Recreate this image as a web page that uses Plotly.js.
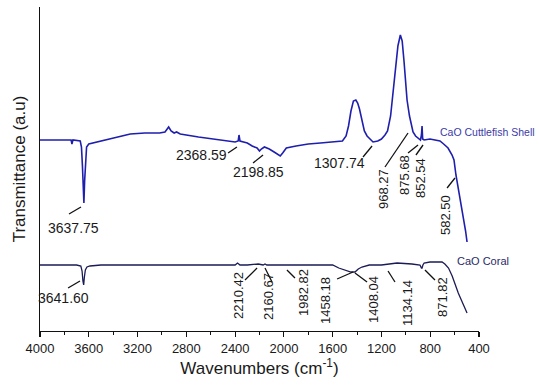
<!DOCTYPE html>
<html>
<head>
<meta charset="utf-8">
<script src="https://cdn.plot.ly/plotly-3.0.1.min.js"></script>
<style>html,body{margin:0;padding:0;background:#fff;}#chart{width:539px;height:385px;}</style>
</head>
<body>
<div id="chart"></div>
<script>
// CaO Cuttlefish Shell spectrum (wavenumber, transmittance a.u.)
const shellWavenumber = [4000,3850,3745,3738,3730,3670,3660,3652,3646,3640,3634,3627,3618,3600,3500,3380,3260,3140,3020,2975,2945,2925,2900,2880,2850,2700,2500,2400,2375,2368,2360,2330,2300,2260,2220,2200,2185,2160,2120,2080,2050,2030,2010,1980,1900,1800,1700,1600,1520,1490,1470,1450,1430,1410,1395,1380,1359,1340,1318,1290,1269,1230,1200,1171,1150,1125,1105,1085,1065,1045,1030,1015,1000,990,970,955,941,920,900,880,872,867,862,850,802,760,720,690,654,621,605,589,575,556,540,523,510,498];
const shellT = [191,191,191,187,191,190,184,165,140,128,150,172,184,187,190,194,197,198,198,199,204,200,198,199,197,194,191,189,190,196,190,189,188,185,183,180,182,184,182,179,177,175,178,183,185,187,188,189,190,195,205,220,230,231,228,222,210,200,195,191,189,190,192,196,200,215,240,265,285,296,290,270,250,231,215,205,199,195,193,191,196,205,192,191,192,191,190,187,183,176,171,156,146,136,124,111,100,89];
// CaO Coral spectrum
const coralWavenumber = [4000,3700,3665,3655,3648,3642,3636,3628,3615,3590,3500,3000,2400,2380,2370,2360,2300,2210,2170,2155,2140,2100,2000,1900,1800,1600,1550,1500,1450,1417,1390,1360,1318,1300,1200,1150,1072,950,900,884,872,867,860,850,802,750,703,680,650,620,590,570,545,520,498];
const coralT = [66,66,65,60,50,46,54,61,64,65,66,66,66,68,67,66,66,67,66,67,66,66,66,66,66,66,63,61,59,59,62,64,65,66,66,67,68,67,66,66,63,63,66,68,69,69,69,67,63,55,44,38,31,24,18];
// Peak labels
const labelText = ["3637.75","2368.59","2198.85","1307.74","968.27","875.68","852.54","582.50","3641.60","2210.42","2160.67","1982.82","1458.18","1408.04","1134.14","871.82"];
const labelTipWavenumber = [3664,2385,2171,1277,982,900,859,597,3672,2220,2155,1975,1433,1417,1146,843];
const labelTipT = [124,184,176,185,198,186,186,153,50,63,63,61,59,58,60,61];
const labelTailWavenumber = [3762,2458,2253,1351,1171,982,917,662,3770,2319,2097,1909,1564,1318,1089,761];
const labelTailT = [117,178,168,174,164,178,176,143,43,51,49,53,52,49,49,51];
const labelTextWavenumber = [3729,2672,2212,1540,1187,1015,884,679,3811,2376,2130,1843,1663,1269,990,703];
const labelTextT = [103,176,159,168,142,156,153,116,33,35,34,38,31,31,28,34];
const labelAngle = [0,0,0,0,-90,-90,-90,-90,0,-90,-90,-90,-90,-90,-90,-90];
const seriesNames = ["CaO Cuttlefish Shell","CaO Coral"];
const xTickVals = [4000,3600,3200,2800,2400,2000,1600,1200,800,400];

const FONT = "Arial, 'Liberation Sans', sans-serif";
const shellColor = "#1f1fae";
const coralColor = "#1b1b55";

const cx = [], cy = [];
for (let i = 0; i < labelText.length; i++) {
  cx.push(labelTailWavenumber[i], labelTipWavenumber[i], null);
  cy.push(labelTailT[i], labelTipT[i], null);
}

const traces = [
  {x: shellWavenumber, y: shellT, mode: "lines", line: {color: shellColor, width: 1.6}, name: seriesNames[0], hoverinfo: "skip"},
  {x: coralWavenumber, y: coralT, mode: "lines", line: {color: coralColor, width: 1.3}, name: seriesNames[1], hoverinfo: "skip"},
  {x: cx, y: cy, mode: "lines", line: {color: "#111", width: 1.3}, hoverinfo: "skip", showlegend: false}
];

const annotations = labelText.map((t, i) => ({
  x: labelTextWavenumber[i], y: labelTextT[i], xref: "x", yref: "y",
  text: t, showarrow: false, textangle: labelAngle[i],
  xanchor: "center", yanchor: "middle",
  font: {family: FONT, size: labelAngle[i] === 0 ? 14 : 13, color: "#1a1a1a"}
}));
annotations.push({x: 736, y: 199, xref: "x", yref: "y", text: seriesNames[0], showarrow: false, xanchor: "left", yanchor: "middle", font: {family: FONT, size: 10.5, color: "#3a3aa8"}});
annotations.push({x: 597, y: 70, xref: "x", yref: "y", text: seriesNames[1], showarrow: false, xanchor: "left", yanchor: "middle", font: {family: FONT, size: 11, color: "#2a2a66"}});

const layout = {
  width: 539, height: 385, autosize: false,
  margin: {l: 40, r: 60, t: 7, b: 54, pad: 0},
  paper_bgcolor: "#fff", plot_bgcolor: "#fff",
  showlegend: false,
  font: {family: FONT, color: "#1a1a1a"},
  xaxis: {
    range: [4000, 400], showgrid: false, zeroline: false,
    showline: true, linecolor: "#111", linewidth: 1.3, mirror: false,
    ticks: "outside", ticklen: 5, tickwidth: 1.2, tickcolor: "#111",
    tickvals: xTickVals, ticktext: xTickVals.map(String),
    tickfont: {family: FONT, size: 13, color: "#1a1a1a"},
    minor: {dtick: 200, ticks: "outside", ticklen: 3, tickwidth: 1, tickcolor: "#111"},
    title: {text: "Wavenumbers (cm<sup>-1</sup>)", font: {family: FONT, size: 17, color: "#1a1a1a"}, standoff: 6}
  },
  yaxis: {
    range: [0, 324], showgrid: false, zeroline: false,
    showline: true, linecolor: "#111", linewidth: 1.3,
    ticks: "", showticklabels: false,
    title: {text: "Transmittance (a.u)", font: {family: FONT, size: 17, color: "#1a1a1a"}, standoff: 8}
  },
  annotations: annotations
};

Plotly.newPlot("chart", traces, layout, {displayModeBar: false, staticPlot: true});
</script>
</body>
</html>
